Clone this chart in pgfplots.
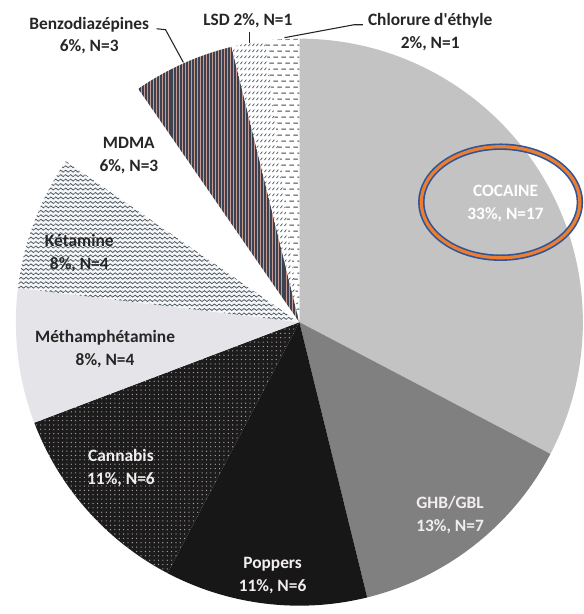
\documentclass[border=0pt]{standalone}
\usepackage{pgfplots}
\pgfplotsset{compat=1.18}
\usepackage{pgfplotstable}
\usepackage{fontspec}
\setmainfont{Carlito}
\usetikzlibrary{patterns,patterns.meta}

\definecolor{cCoc}{HTML}{C3C3C3}
\definecolor{cGHB}{HTML}{808080}
\definecolor{cPop}{HTML}{171717}
\definecolor{cCan}{HTML}{1C1C1C}
\definecolor{cCanDot}{HTML}{B8ACAC}
\definecolor{cMeth}{HTML}{E5E5E9}
\definecolor{cKet}{HTML}{F6F6F8}
\definecolor{cKetLine}{HTML}{4A5860}
\definecolor{cBenzoBg}{HTML}{C99A92}
\definecolor{cBenzoLine}{HTML}{3C4250}
\definecolor{cLSD}{HTML}{55606A}
\definecolor{cChl}{HTML}{3F4950}
\definecolor{txtDark}{HTML}{262626}
\definecolor{txtLight}{HTML}{F3EEEE}
\definecolor{ellOrange}{HTML}{ED7D31}
\definecolor{ellBlue}{HTML}{2F5597}

% Cannabis: small dots
\pgfdeclarepatternformonly{cdots}{\pgfqpoint{-1pt}{-1pt}}{\pgfqpoint{4pt}{4pt}}{\pgfqpoint{4.4pt}{4.4pt}}{%
  \pgfpathcircle{\pgfqpoint{1.5pt}{1.5pt}}{0.65pt}\pgfusepath{fill}}
% Ketamine: waves
\pgfdeclarepatternformonly{kwaves}{\pgfqpoint{0pt}{-1pt}}{\pgfqpoint{5pt}{4pt}}{\pgfqpoint{5pt}{4.5pt}}{%
  \pgfsetlinewidth{0.8pt}%
  \pgfpathmoveto{\pgfqpoint{0pt}{1.2pt}}%
  \pgfpathcurveto{\pgfqpoint{0.8pt}{2.5pt}}{\pgfqpoint{1.7pt}{2.5pt}}{\pgfqpoint{2.5pt}{1.2pt}}%
  \pgfpathcurveto{\pgfqpoint{3.3pt}{-0.1pt}}{\pgfqpoint{4.2pt}{-0.1pt}}{\pgfqpoint{5pt}{1.2pt}}%
  \pgfusepath{stroke}}
% LSD: short slanted strokes
\pgfdeclarepatternformonly{lsdslash}{\pgfqpoint{0pt}{0pt}}{\pgfqpoint{3.5pt}{6pt}}{\pgfqpoint{3.5pt}{6pt}}{%
  \pgfsetlinewidth{0.8pt}%
  \pgfpathmoveto{\pgfqpoint{0.5pt}{1pt}}%
  \pgfpathlineto{\pgfqpoint{2.8pt}{3.4pt}}%
  \pgfusepath{stroke}}
% Chlorure: staggered horizontal dashes
\pgfdeclarepatternformonly{chldash}{\pgfqpoint{0pt}{0pt}}{\pgfqpoint{8pt}{12pt}}{\pgfqpoint{8pt}{12pt}}{%
  \pgfsetlinewidth{1pt}%
  \pgfpathmoveto{\pgfqpoint{0.5pt}{2pt}}\pgfpathlineto{\pgfqpoint{5pt}{2pt}}%
  \pgfpathmoveto{\pgfqpoint{4.5pt}{8pt}}\pgfpathlineto{\pgfqpoint{8pt}{8pt}}%
  \pgfpathmoveto{\pgfqpoint{0pt}{8pt}}\pgfpathlineto{\pgfqpoint{1pt}{8pt}}%
  \pgfusepath{stroke}}

\pgfplotstableread{
drug N
Cocaine 17
GHB 7
Poppers 6
Cannabis 6
Meth 4
Ketamine 4
MDMA 3
Benzo 3
LSD 1
Chlorure 1
}\drugs

\newcommand\slice[3]{%
  \path[#3] (axis cs:302,289) -- ++(#1:286pt) arc[start angle=#1, end angle=#2, radius=286pt] -- cycle;}
\newcommand\ang[1]{\csname ang#1\endcsname}
\tikzset{lbl/.style={font=\fontsize{17.5}{23}\selectfont\bfseries, align=center, inner sep=0pt}}

\begin{document}
\begin{tikzpicture}
\gdef\total{0}%
\pgfplotstableforeachcolumnelement{N}\of\drugs\as\val{%
  \pgfmathparse{\total+\val}\xdef\total{\pgfmathresult}}%
\gdef\cum{90}%
\pgfplotstableforeachcolumnelement{N}\of\drugs\as\val{%
  \pgfmathparse{\cum-360*\val/\total}\xdef\cum{\pgfmathresult}%
  \expandafter\xdef\csname ang\pgfplotstablerow\endcsname{\cum}}%
\begin{axis}[
  scale only axis, width=588pt, height=614pt,
  xmin=0, xmax=588, ymin=0, ymax=614,
  hide axis, clip=false,
]
\path (axis cs:0,0) rectangle (axis cs:588,614);
\slice{90}{\ang{0}}{fill=cCoc}
\slice{\ang{0}}{\ang{1}}{fill=cGHB}
\slice{\ang{1}}{\ang{2}}{fill=cPop}
\slice{\ang{2}}{\ang{3}}{preaction={fill=cCan}, pattern=cdots, pattern color=cCanDot}
\slice{\ang{3}}{\ang{4}}{fill=cMeth}
\slice{\ang{4}}{\ang{5}}{preaction={fill=cKet}, pattern=kwaves, pattern color=cKetLine}
\slice{\ang{5}}{\ang{6}}{fill=white}
\slice{\ang{6}}{\ang{7}}{preaction={fill=cBenzoBg}, pattern={Lines[angle=90,distance=3pt,line width=2pt]}, pattern color=cBenzoLine}
\slice{\ang{7}}{\ang{8}}{preaction={fill=white}, pattern=lsdslash, pattern color=cLSD}
\slice{\ang{8}}{\ang{9}}{preaction={fill=white}, pattern=chldash, pattern color=cChl}

% highlight ellipse
\draw[ellBlue, line width=6.5pt] (axis cs:505,410) ellipse[x radius=80, y radius=56];
\draw[ellOrange, line width=3.2pt] (axis cs:505,410) ellipse[x radius=80, y radius=56];

% leader lines
\draw[txtDark, line width=1.1pt] (axis cs:158,585) -- (axis cs:167,584) -- (axis cs:185,551);
\draw[txtDark, line width=1.1pt] (axis cs:252,582) -- (axis cs:252,571);
\draw[txtDark, line width=1.1pt] (axis cs:366,589) -- (axis cs:357,589) -- (axis cs:287,576);

% labels
\node[lbl, text=txtDark] at (axis cs:90,578) {Benzodiazépines\\6\%, N=3};
\node[lbl, text=txtDark] at (axis cs:250,593) {LSD 2\%, N=1};
\node[lbl, text=txtDark] at (axis cs:434,582) {Chlorure d\textquotesingle éthyle\\2\%, N=1};
\node[lbl, text=txtDark] at (axis cs:130,457) {MDMA\\6\%, N=3};
\node[lbl, text=txtDark] at (axis cs:80,359) {Kétamine\\8\%, N=4};
\node[lbl, text=txtDark] at (axis cs:106,262) {Méthamphétamine\\8\%, N=4};
\node[lbl, text=txtLight] at (axis cs:122,142) {Cannabis\\11\%, N=6};
\node[lbl, text=txtLight] at (axis cs:275,33) {Poppers\\11\%, N=6};
\node[lbl, text=txtLight] at (axis cs:454,94) {GHB/GBL\\13\%, N=7};
\node[lbl, text=white] at (axis cs:510,409) {COCAINE\\33\%, N=17};
\end{axis}
\end{tikzpicture}
\end{document}
